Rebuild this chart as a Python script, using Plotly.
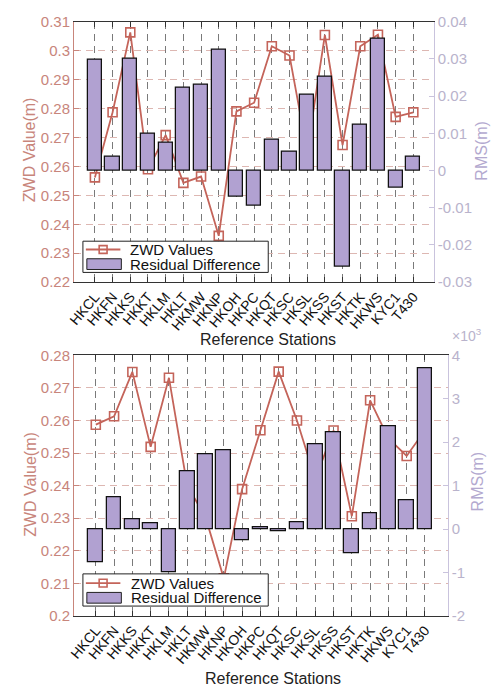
import plotly.graph_objects as go

# ---------------- data ----------------
stations = ["HKCL", "HKFN", "HKKS", "HKKT", "HKLM", "HKLT", "HKMW", "HKNP", "HKOH", "HKPC",
            "HKQT", "HKSC", "HKSL", "HKSS", "HKST", "HKTK", "HKWS", "KYC1", "T430"]

# upper panel
zwd_top = [0.2562, 0.2787, 0.3063, 0.2590, 0.2708, 0.2543, 0.2565, 0.2360, 0.2790, 0.2820,
           0.3015, 0.2983, 0.2650, 0.3054, 0.2674, 0.3015, 0.3055, 0.2771, 0.2787]
resid_top = [0.0299, 0.0037, 0.0301, 0.0100, 0.0074, 0.0223, 0.0230, 0.0324, -0.0071, -0.0095,
             0.0082, 0.0050, 0.0203, 0.0251, -0.0259, 0.0123, 0.0353, -0.0045, 0.0037]

# lower panel (residuals in units of 1e-3 m)
zwd_bottom = [0.2587, 0.2613, 0.2749, 0.2519, 0.2731, 0.2400, 0.2303, 0.2115, 0.2389, 0.2570,
              0.2750, 0.2600, 0.2420, 0.2569, 0.2306, 0.2662, 0.2545, 0.2491, 0.2570]
resid_bottom = [-0.77, 0.73, 0.22, 0.12, -1.00, 1.32, 1.71, 1.82, -0.27, 0.03,
                -0.05, 0.16, 1.96, 2.22, -0.55, 0.35, 2.37, 0.65, 3.70]

# tick labels
top_left_ticks = [0.22, 0.23, 0.24, 0.25, 0.26, 0.27, 0.28, 0.29, 0.30, 0.31]
top_left_text = ["0.22", "0.23", "0.24", "0.25", "0.26", "0.27", "0.28", "0.29", "0.3", "0.31"]
top_right_ticks = [-0.03, -0.02, -0.01, 0.0, 0.01, 0.02, 0.03, 0.04]
top_right_text = ["-0.03", "-0.02", "-0.01", "0", "0.01", "0.02", "0.03", "0.04"]
bot_left_ticks = [0.20, 0.21, 0.22, 0.23, 0.24, 0.25, 0.26, 0.27, 0.28]
bot_left_text = ["0.2", "0.21", "0.22", "0.23", "0.24", "0.25", "0.26", "0.27", "0.28"]
bot_right_ticks = [-2, -1, 0, 1, 2, 3, 4]
bot_right_text = ["-2", "-1", "0", "1", "2", "3", "4"]

legend_names = ["ZWD Values", "Residual Difference"]
x_title = "Reference Stations"
left_title = "ZWD Value(m)"
right_title = "RMS(m)"

# ---------------- style ----------------
W, H = 493, 697
FONT = "Arial, 'Liberation Sans', sans-serif"
LINE_C = "#C4645A"
BAR_C = "#B1A1D1"
LEFT_C = "#C8857B"
RIGHT_C = "#B9B3CC"
RIGHT_AX_C = "#C9C3DD"
XGRID_C = "#7A7A7A"
YGRID_C = "#DDB7B2"


def px(x):
    return x / W


def py(y):
    return 1 - y / H


fig = go.Figure()

# upper panel traces
fig.add_trace(go.Scatter(x=stations, y=zwd_top, xaxis="x", yaxis="y", mode="lines+markers",
                         name=legend_names[0], showlegend=False,
                         line=dict(color=LINE_C, width=1.8),
                         marker=dict(symbol="square-open", size=9, color=LINE_C,
                                     line=dict(width=1.6, color=LINE_C))))
fig.add_trace(go.Bar(x=stations, y=resid_top, xaxis="x", yaxis="y2", width=0.8,
                     name=legend_names[1], showlegend=False,
                     marker=dict(color=BAR_C, line=dict(color="#111111", width=1.3))))

# lower panel traces
fig.add_trace(go.Scatter(x=stations, y=zwd_bottom, xaxis="x2", yaxis="y3", mode="lines+markers",
                         name=legend_names[0], showlegend=False,
                         line=dict(color=LINE_C, width=1.8),
                         marker=dict(symbol="square-open", size=9, color=LINE_C,
                                     line=dict(width=1.6, color=LINE_C))))
fig.add_trace(go.Bar(x=stations, y=resid_bottom, xaxis="x2", yaxis="y4", width=0.8,
                     name=legend_names[1], showlegend=False,
                     marker=dict(color=BAR_C, line=dict(color="#111111", width=1.3))))


def xaxis_style(domain, anchor, rng):
    return dict(domain=domain, anchor=anchor, type="category", categoryorder="array",
                categoryarray=stations, range=rng,
                showgrid=True, gridcolor=XGRID_C, griddash="7px,5px", gridwidth=1,
                showline=True, linecolor="#333333", linewidth=1, mirror="ticks",
                ticks="inside", ticklen=5, tickcolor="#333333",
                tickangle=-50, tickfont=dict(family=FONT, size=14, color="#111111"),
                zeroline=False)


def left_style(domain, anchor, rng, vals, text):
    return dict(domain=domain, anchor=anchor, range=rng, tickvals=vals, ticktext=text,
                showgrid=True, gridcolor=YGRID_C, griddash="7px,5px", gridwidth=1,
                showline=True, linecolor=LEFT_C, linewidth=1,
                ticks="inside", ticklen=5, tickcolor=LEFT_C,
                tickfont=dict(family=FONT, size=15, color=LEFT_C), zeroline=False)


def right_style(over, anchor, rng, vals, text):
    return dict(overlaying=over, anchor=anchor, side="right", range=rng,
                tickvals=vals, ticktext=text, showgrid=False, zeroline=False,
                showline=True, linecolor=RIGHT_AX_C, linewidth=1,
                ticks="inside", ticklen=5, tickcolor=RIGHT_AX_C,
                tickfont=dict(family=FONT, size=15, color=RIGHT_C))


top_dom_x = [px(68), px(433)]
top_dom_y = [py(280), py(13)]
bot_dom_x = [px(68), px(447)]
bot_dom_y = [py(622), py(355)]

fig.update_layout(
    width=W, height=H, margin=dict(l=0, r=0, t=0, b=0),
    paper_bgcolor="white", plot_bgcolor="white",
    showlegend=False, bargap=0,
    xaxis=xaxis_style(top_dom_x, "y", [-1.18, 19.16]),
    yaxis=left_style(top_dom_y, "x", [0.22, 0.31], top_left_ticks, top_left_text),
    yaxis2=right_style("y", "x", [-0.03, 0.04], top_right_ticks, top_right_text),
    xaxis2=xaxis_style(bot_dom_x, "y3", [-1.19, 19.24]),
    yaxis3=left_style(bot_dom_y, "x2", [0.20, 0.28], bot_left_ticks, bot_left_text),
    yaxis4=right_style("y3", "x2", [-2, 4], bot_right_ticks, bot_right_text),
)

annotations = []
shapes = []


def add_text(text, x, y, color, size=16, angle=0, xanchor="center", yanchor="middle"):
    annotations.append(dict(text=text, x=px(x), y=py(y), xref="paper", yref="paper",
                            showarrow=False, textangle=angle, xanchor=xanchor, yanchor=yanchor,
                            font=dict(family=FONT, size=size, color=color)))


# axis titles
add_text(x_title, 265, 339, "#222222")
add_text(x_title, 270, 686, "#222222")
add_text(left_title, 23, 144, LEFT_C, angle=-90)
add_text(left_title, 23, 487, LEFT_C, angle=-90)
add_text(right_title, 481, 145, "#B3A9CF", angle=-90)
add_text(right_title, 477, 484, "#B3A9CF", angle=-90)
add_text("×10<sup>3</sup>", 449, 334, RIGHT_C, size=14, xanchor="left")


def legend_box(x0, y0, x1, y1, row1, row2, text_x):
    shapes.append(dict(type="rect", xref="paper", yref="paper", layer="above",
                       x0=px(x0), x1=px(x1), y0=py(y1), y1=py(y0),
                       fillcolor="white", line=dict(color="#222222", width=1)))
    # line + marker swatch
    shapes.append(dict(type="line", xref="paper", yref="paper", layer="above",
                       x0=px(80), x1=px(115), y0=py(row1), y1=py(row1),
                       line=dict(color=LINE_C, width=1.8)))
    shapes.append(dict(type="rect", xref="paper", yref="paper", layer="above",
                       x0=px(93.5), x1=px(101.5), y0=py(row1 + 4), y1=py(row1 - 4),
                       line=dict(color=LINE_C, width=1.6)))
    # bar swatch
    shapes.append(dict(type="rect", xref="paper", yref="paper", layer="above",
                       x0=px(81), x1=px(116), y0=py(row2 + 5.5), y1=py(row2 - 5.5),
                       fillcolor=BAR_C, line=dict(color="#222222", width=1)))
    add_text(legend_names[0], text_x, row1, "#111111", size=15, xanchor="left")
    add_text(legend_names[1], text_x, row2, "#111111", size=15, xanchor="left")


legend_box(77, 238, 265, 270, 246.5, 261.5, 123)
legend_box(77, 579, 265, 612, 588.5, 603.5, 124)

fig.update_layout(annotations=annotations, shapes=shapes)

fig.write_html("out.html")
